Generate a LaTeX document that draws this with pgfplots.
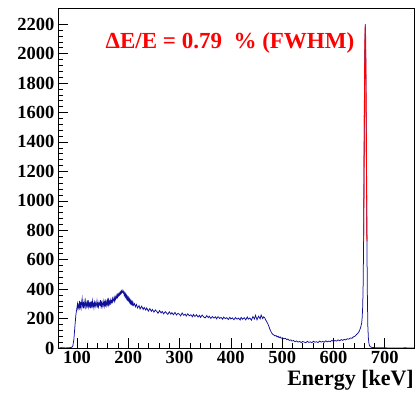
\documentclass[border=0pt]{standalone}
\usepackage{fontspec}
\setmainfont{Liberation Serif}
\usepackage{pgfplots}
\pgfplotsset{compat=1.18}
\definecolor{rootblue}{RGB}{15,15,155}
\begin{document}
\begin{tikzpicture}
\useasboundingbox (-58pt,-50pt) rectangle (359pt,348pt);
\begin{axis}[
  at={(0,0)}, anchor=south west,
  scale only axis, width=356pt, height=340pt,
  xmin=63, xmax=757, ymin=0, ymax=2310,
  xtick={100,200,...,700}, ytick={0,200,...,2200},
  minor x tick num=4, minor y tick num=4,
  tick align=inside, tick pos=left,
  major tick length=10pt, minor tick length=5pt,
  axis line style={line width=0.8pt},
  every tick/.style={black, line width=0.6pt},
  /pgf/number format/assume math mode=true,
  /pgf/number format/1000 sep={},
  ticklabel style={font=\fontsize{18.5}{18.5}\selectfont\bfseries},
  xlabel={Energy [keV]},
  xlabel style={font=\fontsize{22}{22}\selectfont\bfseries, at={(rel axis cs:1,0)}, anchor=north east, yshift=-22pt, inner sep=0pt},
  clip=true,
]
\addplot[rootblue, line width=0.75pt] coordinates {
(63,2) (66,0) (69,3) (72,1) (75,2) (78,0) (81,2) (84,1) (87,3) (90,5) (92,15) (94,60) (96,150) (98,230) (100,275)
(101,300) (102,268) (103,290) (104,275) (105,320) (106,280) (107,300) (108,272) (109,310) (110,335) (111,285)
(112,300) (113,270) (114,315) (115,290) (116,275) (117,320) (118,295) (119,280) (120,310) (121,290) (122,325)
(123,280) (124,300) (125,285) (126,315) (127,270) (128,305) (129,290) (130,320) (131,285) (132,300) (133,275)
(134,310) (135,290) (136,305) (137,280) (138,295) (139,320) (140,285) (141,300) (142,280) (143,310) (144,295)
(145,290) (146,325) (147,285) (148,305) (149,280) (150,300) (151,320) (152,290) (153,305) (154,285) (155,330)
(156,295) (157,310) (158,290) (159,320) (160,300) (161,340) (162,295) (163,315) (164,300) (165,325) (166,305)
(167,320) (168,310) (169,335) (170,315) (171,325) (172,340) (173,320) (174,345) (175,330) (176,350) (177,340)
(178,360) (179,345) (180,365) (181,355) (182,370) (183,360) (184,378) (185,368) (186,385) (187,375) (188,392)
(189,380) (190,375) (191,385) (192,360) (193,372) (194,350) (195,365) (196,340) (197,355) (198,330) (199,345)
(200,325) (201,340) (202,315) (203,330) (204,305) (205,320) (206,300) (207,315) (208,295) (209,310) (210,290)
(212,302) (214,280) (216,296) (218,272) (221,288) (223,265) (226,284) (229,262) (231,276) (234,258) (236,272)
(239,250) (242,268) (245,249) (247,262) (250,244) (253,259) (256,246) (258,236) (261,254) (264,238) (266,249)
(269,232) (272,247) (275,236) (277,228) (280,246) (283,230) (285,240) (288,226) (291,242) (294,224) (297,236)
(300,228) (302,218) (305,238) (308,222) (311,230) (313,217) (316,232) (319,219) (322,226) (325,212) (327,228)
(330,214) (333,226) (336,210) (339,222) (341,208) (344,224) (347,211) (350,204) (353,220) (356,206) (358,216)
(361,201) (364,214) (367,203) (370,212) (372,198) (375,213) (378,201) (381,208) (384,195) (386,210) (389,199)
(392,206) (395,193) (398,209) (400,197) (403,205) (406,192) (409,207) (412,196) (415,203) (418,190) (420,208)
(423,195) (426,206) (429,191) (432,211) (434,196) (437,204) (440,189) (443,214) (446,197) (448,222) (451,192)
(454,216) (457,198) (459,224) (462,200) (464,212)
(466,205) (468,190) (470,178) (472,165) (474,148) (476,128) (478,112) (480,100) (482,92) (484,88) (486,82)
(488,85) (490,75) (492,80) (494,70) (496,76) (498,66) (501,70) (503,62) (506,66) (509,57) (511,61) (514,52)
(517,55) (519,47) (522,51) (525,43) (528,48) (531,40) (534,45) (537,37) (540,44) (543,40) (546,36) (549,45)
(552,38) (555,42) (558,36) (561,46) (564,39) (567,43) (570,37) (573,47) (576,40) (579,45) (582,39) (585,49)
(588,42) (591,47) (594,43) (597,52) (600,45) (603,51) (606,47) (609,55) (612,49) (615,57) (618,52) (621,59)
(624,55) (627,63) (630,60) (633,68) (636,66) (639,76) (642,80) (645,92) (648,102) (650,112)
(651,120) (653,140) (655,170) (656,210) (657,280) (658,450) (659,850) (660,1450) (661,1980) (662,2200)
(663,1950) (664,1420) (665,820) (666,380) (667,150) (668,70) (669,35) (670,18) (672,8) (675,4) (680,2)
(690,1) (700,1) (720,0) (740,1) (757,0)
};
\addplot[red, line width=0.9pt] coordinates {
(658.7,725) (659,879) (659.5,1161) (660,1459) (660.5,1743) (661,1980) (661.5,2135) (662,2190)
(662.5,2135) (663,1980) (663.5,1743) (664,1459) (664.5,1161) (665,879) (665.3,725)
};
\node[red, font=\fontsize{23}{23}\selectfont\bfseries] at (rel axis cs:0.483,0.897) {ΔE/E = 0.79 ~\% (FWHM)};
\end{axis}
\end{tikzpicture}
\end{document}
